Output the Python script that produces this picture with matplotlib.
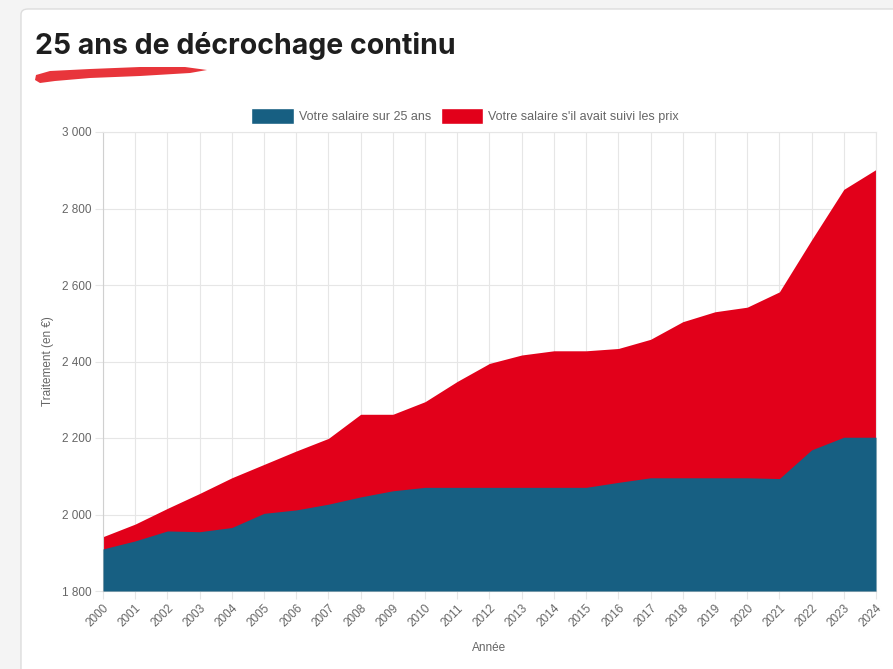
import matplotlib
matplotlib.use("Agg")
import matplotlib.pyplot as plt
from matplotlib.patches import FancyBboxPatch, Polygon, Patch
from matplotlib.ticker import FuncFormatter

years = list(range(2000, 2025))
salaire = [1910, 1931, 1957, 1955, 1966, 2003, 2012, 2027, 2046, 2062, 2071, 2071, 2071,
           2071, 2071, 2071, 2084, 2096, 2096, 2096, 2096, 2094, 2169, 2202, 2202]
salaire_prix = [1942, 1975, 2016, 2055, 2096, 2131, 2166, 2199, 2262, 2262, 2295, 2348, 2395,
                2417, 2428, 2428, 2434, 2458, 2504, 2530, 2542, 2582, 2718, 2850, 2902]
y_ticks = [1800, 2000, 2200, 2400, 2600, 2800, 3000]

BLUE = "#175f82"
RED = "#e2001a"
GRID = "#e6e6e6"
TXT = "#666666"

W, H = 893, 669
fig = plt.figure(figsize=(W / 100, H / 100), dpi=100)
fig.patch.set_facecolor("#f4f4f4")

# card background
card = FancyBboxPatch((21 / W, -0.05), 1.0, 1.0 - 9 / H + 0.05,
                      boxstyle="round,pad=0,rounding_size=0.008",
                      transform=fig.transFigure, facecolor="white",
                      edgecolor="#dddddd", linewidth=1.0, zorder=-5)
fig.patches.append(card)

fig.text(35 / W, 1 - 46 / H, "25 ans de décrochage continu", fontsize=20.5,
         fontweight="bold", family="Inter", color="#1e1e1e", va="center", ha="left")

# brush stroke under title
stroke = [(36, 75), (50, 71), (90, 69), (140, 67), (185, 67), (207, 70), (190, 73),
          (140, 76), (90, 78), (55, 81), (40, 83), (35, 80)]
fig.patches.append(Polygon([(x / W, 1 - y / H) for x, y in stroke], closed=True,
                           transform=fig.transFigure, facecolor="#e8353b",
                           edgecolor="none", zorder=2))

ax = fig.add_axes([103 / W, 1 - 591 / H, (876 - 103) / W, (591 - 132) / H])
ax.fill_between(years, y_ticks[0], salaire_prix, color=RED, linewidth=0, zorder=2)
ax.fill_between(years, y_ticks[0], salaire, color=BLUE, linewidth=0, zorder=3)

ax.set_xlim(years[0], years[-1])
ax.set_ylim(y_ticks[0], y_ticks[-1])
ax.set_xticks(years)
ax.set_xticklabels([str(y) for y in years], rotation=45, ha="right",
                   rotation_mode="anchor", fontsize=8.5, color=TXT, family="Liberation Sans")
ax.set_yticks(y_ticks)
ax.yaxis.set_major_formatter(FuncFormatter(lambda v, p: f"{int(v):,}".replace(",", " ")))
for lab in ax.get_yticklabels():
    lab.set_fontsize(8.5)
    lab.set_color(TXT)
    lab.set_family("Liberation Sans")
ax.tick_params(axis="both", length=5.5, color=GRID, pad=2.5)
ax.grid(True, color=GRID, linewidth=0.8, zorder=1)
ax.set_axisbelow(True)
for s in ["top", "right"]:
    ax.spines[s].set_color(GRID)
ax.spines["left"].set_color("#d0d0d0")
ax.spines["bottom"].set_color("#d0d0d0")

ax.set_xlabel("Année", fontsize=8.5, color=TXT, family="Liberation Sans", labelpad=9)
ax.set_ylabel("Traitement (en €)", fontsize=8.5, color=TXT, family="Liberation Sans", labelpad=6)

handles = [Patch(facecolor=BLUE, edgecolor="white", label="Votre salaire sur 25 ans"),
           Patch(facecolor=RED, edgecolor="white", label="Votre salaire s'il avait suivi les prix")]
leg = fig.legend(handles=handles, loc="center", bbox_to_anchor=(465 / W, 1 - 116 / H),
                 ncol=2, frameon=False, handlelength=3.4, handleheight=1.5,
                 handletextpad=0.4, columnspacing=0.8,
                 prop={"family": "Liberation Sans", "size": 9})
for t in leg.get_texts():
    t.set_color(TXT)

fig.savefig("out.png", dpi=100)
